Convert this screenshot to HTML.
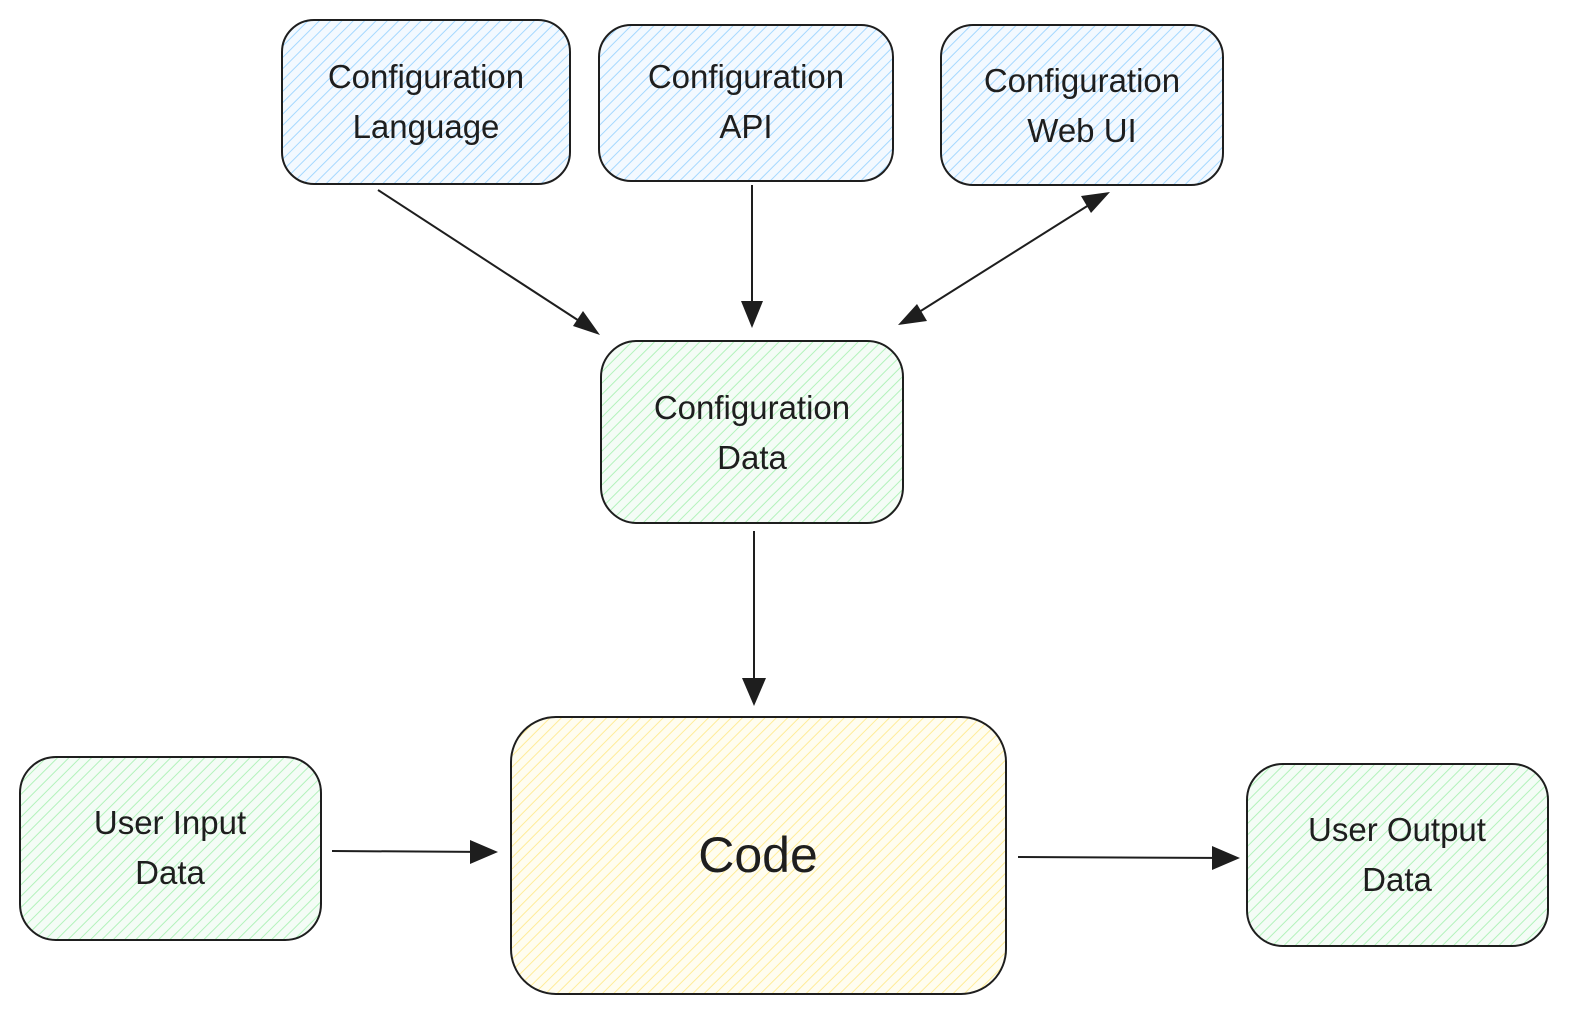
<!DOCTYPE html>
<html><head><meta charset="utf-8"><style>
html,body{margin:0;padding:0;background:#fff;}
svg{display:block;}
text{font-family:"Liberation Sans",sans-serif;fill:#1e1e1e;text-anchor:middle;}
</style></head><body>
<svg width="1582" height="1023" viewBox="0 0 1582 1023" xmlns="http://www.w3.org/2000/svg">
<defs>
<pattern id="hb" width="8" height="8" patternUnits="userSpaceOnUse" patternTransform="rotate(45)">
<rect width="8" height="8" fill="#f3f9ff"/><line x1="0" y1="0" x2="0" y2="8" stroke="#a5d8ff" stroke-width="2"/></pattern>
<pattern id="hg" width="8" height="8" patternUnits="userSpaceOnUse" patternTransform="rotate(45)">
<rect width="8" height="8" fill="#f4fcf6"/><line x1="0" y1="0" x2="0" y2="8" stroke="#b2f2bb" stroke-width="2"/></pattern>
<pattern id="hy" width="8" height="8" patternUnits="userSpaceOnUse" patternTransform="rotate(45)">
<rect width="8" height="8" fill="#fffdf0"/><line x1="0" y1="0" x2="0" y2="8" stroke="#ffec99" stroke-width="2"/></pattern>
</defs>
<g stroke="#1e1e1e" stroke-width="2">
<rect x="282" y="20" width="288" height="164" rx="32" fill="url(#hb)"/>
<rect x="599" y="25" width="294" height="156" rx="32" fill="url(#hb)"/>
<rect x="941" y="25" width="282" height="160" rx="32" fill="url(#hb)"/>
<rect x="601" y="341" width="302" height="182" rx="36" fill="url(#hg)"/>
<rect x="511" y="717" width="495" height="277" rx="45" fill="url(#hy)"/>
<rect x="20" y="757" width="301" height="183" rx="36" fill="url(#hg)"/>
<rect x="1247" y="764" width="301" height="182" rx="36" fill="url(#hg)"/>
</g>
<g stroke="#1e1e1e" stroke-width="2" fill="none">
<line x1="378" y1="190" x2="590" y2="328"/>
<line x1="752" y1="185" x2="752" y2="320"/>
<line x1="1100" y1="198" x2="908" y2="319"/>
<line x1="754" y1="531" x2="754" y2="700"/>
<line x1="332" y1="851" x2="490" y2="852"/>
<line x1="1018" y1="857" x2="1232" y2="858"/>
</g>
<g fill="#1e1e1e">
<path d="M600,335 L573,326 L583,311 z"/>
<path d="M752,328 L741,301 L763,301 z"/>
<path d="M1110,192 L1081,196 L1091,213 z"/>
<path d="M898,325 L927,321 L917,304 z"/>
<path d="M754,706 L742,678 L766,678 z"/>
<path d="M498,852 L470,840 L470,864 z"/>
<path d="M1240,858 L1212,846 L1212,870 z"/>
</g>
<g font-size="33">
<text x="426" y="88">Configuration</text><text x="426" y="138">Language</text>
<text x="746" y="88">Configuration</text><text x="746" y="138">API</text>
<text x="1082" y="92">Configuration</text><text x="1082" y="142">Web UI</text>
<text x="752" y="419">Configuration</text><text x="752" y="469">Data</text>
<text x="170" y="834">User Input</text><text x="170" y="884">Data</text>
<text x="1397" y="841">User Output</text><text x="1397" y="891">Data</text>
<text x="758" y="872" font-size="50">Code</text>
</g>
</svg>
</body></html>
